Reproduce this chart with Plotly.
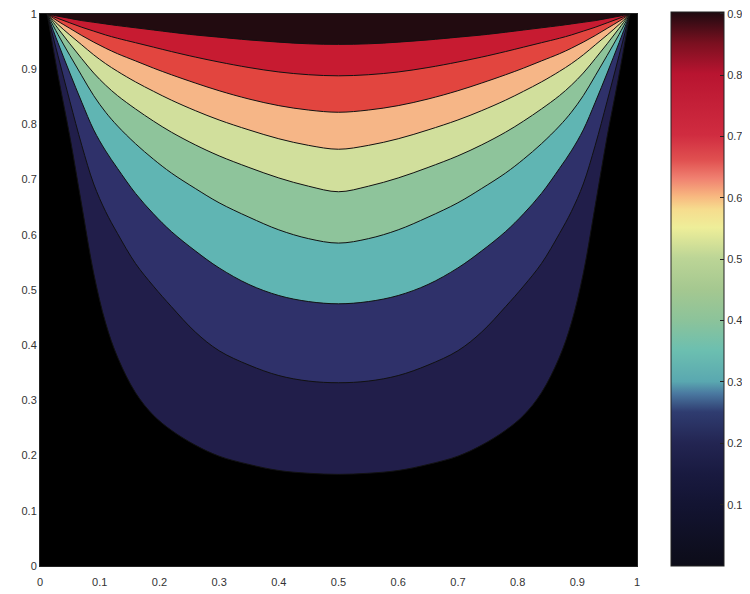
import plotly.graph_objects as go

# contour levels and x sample positions (left half; the picture is mirror-symmetric about x = 0.5)
levels = [0.1, 0.2, 0.3, 0.4, 0.5, 0.6, 0.7, 0.8, 0.9]
x_left = [0.012, 0.03, 0.05, 0.07, 0.09, 0.11, 0.13, 0.16, 0.19, 0.22, 0.26, 0.30, 0.35, 0.40, 0.45, 0.5]

# y position of each contour line at x_left
y_l01 = [1.0, 0.890, 0.778, 0.653, 0.530, 0.440, 0.378, 0.314, 0.273, 0.246, 0.219, 0.199, 0.184, 0.173, 0.168, 0.166]
y_l02 = [1.0, 0.925, 0.842, 0.762, 0.692, 0.642, 0.602, 0.548, 0.507, 0.470, 0.424, 0.390, 0.364, 0.345, 0.335, 0.332]
y_l03 = [1.0, 0.948, 0.893, 0.840, 0.790, 0.752, 0.720, 0.675, 0.638, 0.606, 0.571, 0.540, 0.510, 0.490, 0.479, 0.475]
y_l04 = [1.0, 0.963, 0.925, 0.888, 0.852, 0.822, 0.797, 0.765, 0.737, 0.712, 0.684, 0.658, 0.632, 0.609, 0.593, 0.585]
y_l05 = [1.0, 0.974, 0.946, 0.919, 0.893, 0.871, 0.852, 0.828, 0.806, 0.786, 0.763, 0.743, 0.722, 0.703, 0.688, 0.678]
y_l06 = [1.0, 0.981, 0.962, 0.944, 0.926, 0.910, 0.896, 0.877, 0.860, 0.844, 0.825, 0.808, 0.790, 0.774, 0.762, 0.755]
y_l07 = [1.0, 0.987, 0.974, 0.961, 0.949, 0.938, 0.928, 0.915, 0.902, 0.890, 0.875, 0.861, 0.846, 0.834, 0.826, 0.822]
y_l08 = [1.0, 0.992, 0.984, 0.976, 0.969, 0.962, 0.956, 0.948, 0.940, 0.932, 0.922, 0.913, 0.903, 0.895, 0.890, 0.888]
y_l09 = [1.0, 0.996, 0.992, 0.988, 0.985, 0.982, 0.979, 0.975, 0.971, 0.967, 0.962, 0.958, 0.953, 0.949, 0.946, 0.945]
level_lines = [y_l01, y_l02, y_l03, y_l04, y_l05, y_l06, y_l07, y_l08, y_l09]

# band colours: region above each contour level
band_colors = ['#211e4a', '#2f316a', '#60b5b3', '#8ec49b', '#d1df9c',
               '#f6b687', '#e2453f', '#c71b31', '#220b10']

# continuous colour bar
cbar_scale = [
    [0.0, '#0c0c18'], [0.111, '#131432'], [0.167, '#191a40'], [0.222, '#232552'],
    [0.278, '#2f3c70'], [0.311, '#4a78a0'], [0.333, '#5aa8b0'], [0.389, '#6cbfb0'],
    [0.444, '#8cc39a'], [0.5, '#a5c890'], [0.556, '#bcd596'], [0.611, '#eeee99'],
    [0.644, '#f6dc8e'], [0.667, '#f8b880'], [0.70, '#f08070'], [0.733, '#e05050'],
    [0.778, '#d02c40'], [0.889, '#b81430'], [0.944, '#7a1020'], [1.0, '#1e0a10']]
cbar_ticks = [0.1, 0.2, 0.3, 0.4, 0.5, 0.6, 0.7, 0.8, 0.9]

x_ticks = [0, 0.1, 0.2, 0.3, 0.4, 0.5, 0.6, 0.7, 0.8, 0.9, 1]
x_ticklabels = ['0', '0.1', '0.2', '0.3', '0.4', '0.5', '0.6', '0.7', '0.8', '0.9', '1']

x_full = x_left + [round(1 - v, 4) for v in x_left[-2::-1]]

fig = go.Figure()
for lev, ys, col in zip(levels, level_lines, band_colors):
    y_full = ys + ys[-2::-1]
    fig.add_trace(go.Scatter(
        x=x_full, y=y_full, mode='lines', fill='toself', fillcolor=col,
        line=dict(color='#111111', width=1, shape='spline', smoothing=1.0),
        hoverinfo='skip', showlegend=False, name=f'{lev}'))

fig.add_trace(go.Scatter(
    x=[0.5], y=[0.5], mode='markers', hoverinfo='skip', showlegend=False,
    marker=dict(size=0.1, opacity=0, color=[0.45], colorscale=cbar_scale,
                cmin=0, cmax=0.903, showscale=True,
                colorbar=dict(x=1.057, xanchor='left', xpad=0, y=0, yanchor='bottom', ypad=0,
                              lenmode='pixels', len=554, thicknessmode='pixels', thickness=53,
                              outlinewidth=1, outlinecolor='#222',
                              tickvals=cbar_ticks, ticktext=[str(t) for t in cbar_ticks],
                              ticks='inside', ticklen=4, tickcolor='#222',
                              ticklabeloverflow='allow',
                              tickfont=dict(size=11, color='#333',
                                            family='Liberation Sans, Arial, sans-serif')))))

fig.update_layout(
    width=750, height=594,
    margin=dict(l=32, r=121, t=6, b=36, autoexpand=False),
    paper_bgcolor='white', plot_bgcolor='black',
    font=dict(family='Liberation Sans, Arial, sans-serif', size=11, color='#333'),
    xaxis=dict(range=[0, 1], tickvals=x_ticks, ticktext=x_ticklabels, showgrid=False,
               zeroline=False, showline=True, linecolor='#222', mirror=True, ticks='',
               ticklabelstandoff=6, automargin=False, ticklabeloverflow='allow'),
    yaxis=dict(range=[0, 1], tickvals=x_ticks, ticktext=x_ticklabels, showgrid=False,
               zeroline=False, showline=True, linecolor='#222', mirror=True, ticks='',
               automargin=False, ticklabeloverflow='allow'),
)

fig.write_html('out.html')
